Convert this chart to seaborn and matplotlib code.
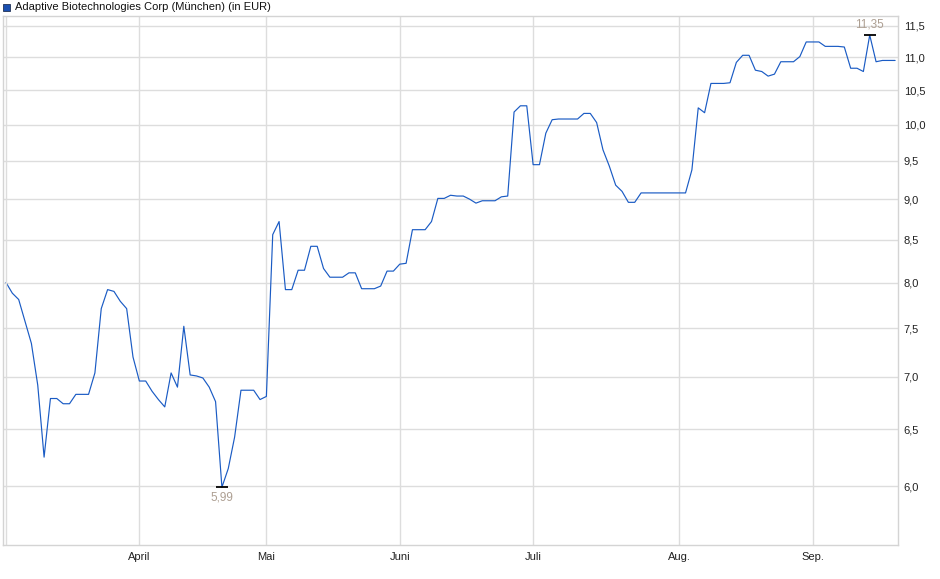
import numpy as np
import pandas as pd
import matplotlib.pyplot as plt
import seaborn as sns
from matplotlib.ticker import FixedLocator, NullLocator
from matplotlib.patches import Rectangle

mar = [8.00, 7.88, 7.81, 7.57, 7.34, 6.92, 6.25, 6.79, 6.79, 6.74, 6.74,
       6.83, 6.83, 6.83, 7.04, 7.71, 7.92, 7.90, 7.79, 7.71, 7.20]
apr = [6.96, 6.96, 6.86, 6.78, 6.71, 7.04, 6.90, 7.52, 7.02, 7.01, 6.99,
       6.90, 6.76, 5.99, 6.15, 6.43, 6.87, 6.87, 6.87, 6.78]
may = [6.81, 8.56, 8.72, 7.92, 7.92, 8.14, 8.14, 8.42, 8.42, 8.16, 8.06,
       8.06, 8.06, 8.11, 8.11, 7.93, 7.93, 7.93, 7.96, 8.13, 8.13]
jun = [8.21, 8.22, 8.62, 8.62, 8.62, 8.72, 9.01, 9.01, 9.05, 9.04, 9.04,
       9.00, 8.95, 8.98, 8.98, 8.98, 9.03, 9.04, 10.18, 10.27, 10.27]
jul = [9.45, 9.45, 9.88, 10.07, 10.08, 10.08, 10.08, 10.08, 10.16, 10.16, 10.03,
       9.65, 9.43, 9.18, 9.10, 8.96, 8.96, 9.08, 9.08, 9.08, 9.08, 9.08, 9.08]
aug = [9.08, 9.08, 9.38, 10.24, 10.17, 10.60, 10.60, 10.60, 10.61, 10.92, 11.03,
       11.03, 10.80, 10.78, 10.71, 10.74, 10.93, 10.93, 10.93, 11.01, 11.24]
sep = [11.24, 11.24, 11.17, 11.17, 11.17, 11.16, 10.83, 10.83, 10.78, 11.35,
       10.93, 10.95, 10.95, 10.95]

holidays = ["2025-04-18", "2025-04-21", "2025-05-01"]
month_labels = ["April", "Mai", "Juni", "Juli", "Aug.", "Sep."]
y_ticks = [6.0, 6.5, 7.0, 7.5, 8.0, 8.5, 9.0, 9.5, 10.0, 10.5, 11.0, 11.5]
title = "Adaptive Biotechnologies Corp (München) (in EUR)"

prices = mar + apr + may + jun + jul + aug + sep
days = pd.bdate_range("2025-03-03", "2025-09-18")
days = days[~days.isin(pd.to_datetime(holidays))]
df = pd.DataFrame({"date": days, "price": prices})
df["idx"] = np.arange(len(df))

sns.set_style("white")
plt.rcParams["font.family"] = ["Liberation Sans", "DejaVu Sans"]

W, H = 940, 579
fig = plt.figure(figsize=(W / 100, H / 100), dpi=100)
ax = fig.add_axes([3 / W, 1 - 545 / H, (898.3 - 3) / W, (545 - 16) / H])

line_col = "#1a5bc4"
grid_col = "#dddddd"
sns.lineplot(data=df, x="idx", y="price", color=line_col, lw=0.85, ax=ax)

ax.set_yscale("log")
ax.set_ylim(5.52, 11.66)
ax.set_xlim(-0.47, 140.5)
ax.yaxis.set_major_locator(FixedLocator(y_ticks))
ax.yaxis.set_minor_locator(NullLocator())
ax.set_yticklabels([f"{v:.1f}".replace(".", ",") for v in y_ticks])
ax.yaxis.tick_right()

month_start = df.groupby(df["date"].dt.to_period("M"))["idx"].min().iloc[1:]
ax.set_xticks(month_start.values)
ax.set_xticklabels(month_labels)

ax.grid(True, color=grid_col, lw=1)
ax.axvline(0, color=grid_col, lw=1)
ax.set_axisbelow(True)
for s in ax.spines.values():
    s.set_color("#d4d4d4")
    s.set_linewidth(1)
ax.tick_params(axis="x", length=2, color="#cccccc", pad=3, labelsize=8, labelcolor="#222222")
ax.tick_params(axis="y", length=0, pad=4, labelsize=8, labelcolor="#222222")
ax.set_xlabel("")
ax.set_ylabel("")

# Hoch / Tief
lab_col = "#ad9f92"
i_min = int(df["price"].idxmin())
i_max = int(df["price"].idxmax())
for i, dy, va in [(i_min, -3, "top"), (i_max, 3, "bottom")]:
    v = df.loc[i, "price"]
    ax.plot([i], [v], marker="_", markersize=8, mew=1.3, color="black")
    ax.annotate(f"{v:.2f}".replace(".", ","), xy=(i, v), xytext=(0, dy),
                textcoords="offset points", ha="center", va=va,
                color=lab_col, fontsize=8.5)

# Legende oben links
fig.patches.append(Rectangle((3 / W, 1 - 11 / H), 7 / W, 7 / H, transform=fig.transFigure,
                             facecolor="#1a4fb0", edgecolor="#223355", lw=0.6))
fig.text(15 / W, 1 - 7.5 / H, title, fontsize=8, va="center", ha="left", color="#111111")

fig.savefig("out.png", dpi=100)
